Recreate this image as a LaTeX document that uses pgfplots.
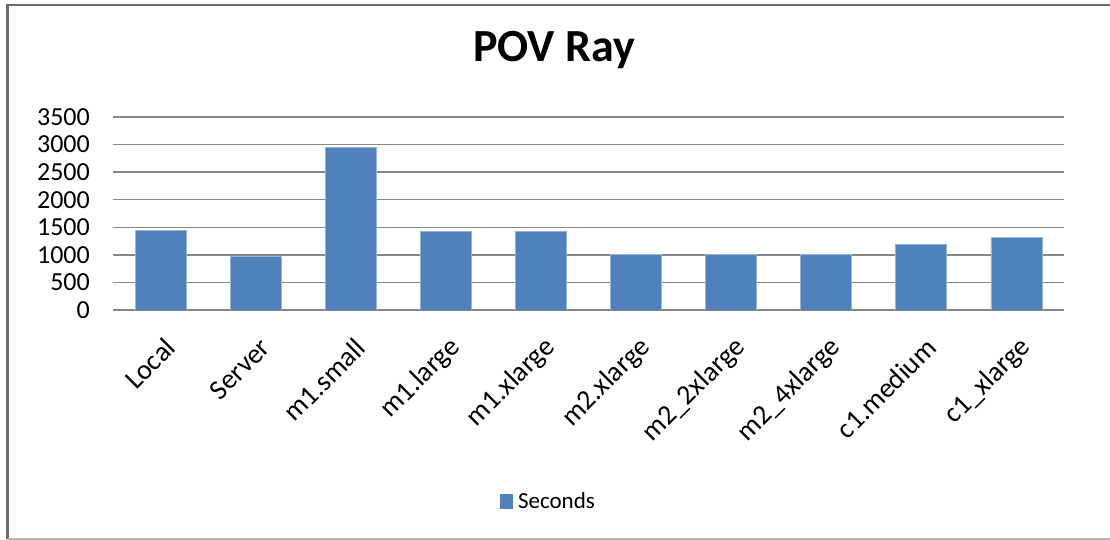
\documentclass[border=0pt]{standalone}
\usepackage{fontspec}
\setmainfont{Carlito}
\usepackage{pgfplots}
\pgfplotsset{compat=1.18}
\definecolor{barblue}{HTML}{4F81BD}
\definecolor{gridgray}{HTML}{878787}
\begin{document}
\begin{tikzpicture}[x=1pt,y=1pt]
\useasboundingbox (0,0) rectangle (1110,540);
\fill[white] (0,0) rectangle (1110,540);
\draw[color=gray!85!black, line width=2.6pt] (7.5,1) -- (7.5,535) -- (1110,535);
\draw[color=gray!55, line width=1.5pt] (7.5,1) -- (1110,1);
\node[font=\bfseries\fontsize{46}{52}\selectfont, anchor=base] at (554,478) {POV Ray};
\begin{axis}[
  at={(113pt,230pt)}, anchor=south west,
  scale only axis, width=951pt, height=193pt,
  xmin=-0.5, xmax=9.5, ymin=0, ymax=3500,
  ytick={0,500,...,3500},
  xtick=data,
  xticklabels={Local,Server,m1.small,m1.large,m1.xlarge,m2.xlarge,m2\_2xlarge,m2\_4xlarge,c1.medium,c1\_xlarge},
  ymajorgrids,
  grid style={color=gridgray, line width=1.3pt},
  axis x line*=bottom, axis y line*=left,
  y axis line style={draw=none},
  x axis line style={color=gridgray, line width=1.3pt, -},
  major tick length=0pt,
  tick label style={inner sep=0pt},
  /pgf/number format/assume math mode=true,
  /pgf/number format/1000 sep={},
  yticklabel style={anchor=east, xshift=-23pt, font=\fontsize{26}{30}\selectfont},
  xticklabel style={xshift=10pt, yshift=-33pt, rotate=45, anchor=east, font=\fontsize{28}{32}\selectfont},
  ybar, bar width=51pt,
  legend style={at={(0.407,-0.99)}, anchor=west, draw=none, fill=none, inner sep=0pt,
    font=\fontsize{23}{28}\selectfont},
  legend image code/.code={\fill[barblue] (0pt,-7pt) rectangle (12pt,7pt);},
]
\addplot[fill=barblue, draw=barblue!60!white, line width=0.8pt] coordinates {
(0,1450) (1,971) (2,2949) (3,1426) (4,1432) (5,1013) (6,1013) (7,1013) (8,1183) (9,1317)};
\addlegendentry{\hspace{3pt}Seconds}
\end{axis}
\end{tikzpicture}
\end{document}
